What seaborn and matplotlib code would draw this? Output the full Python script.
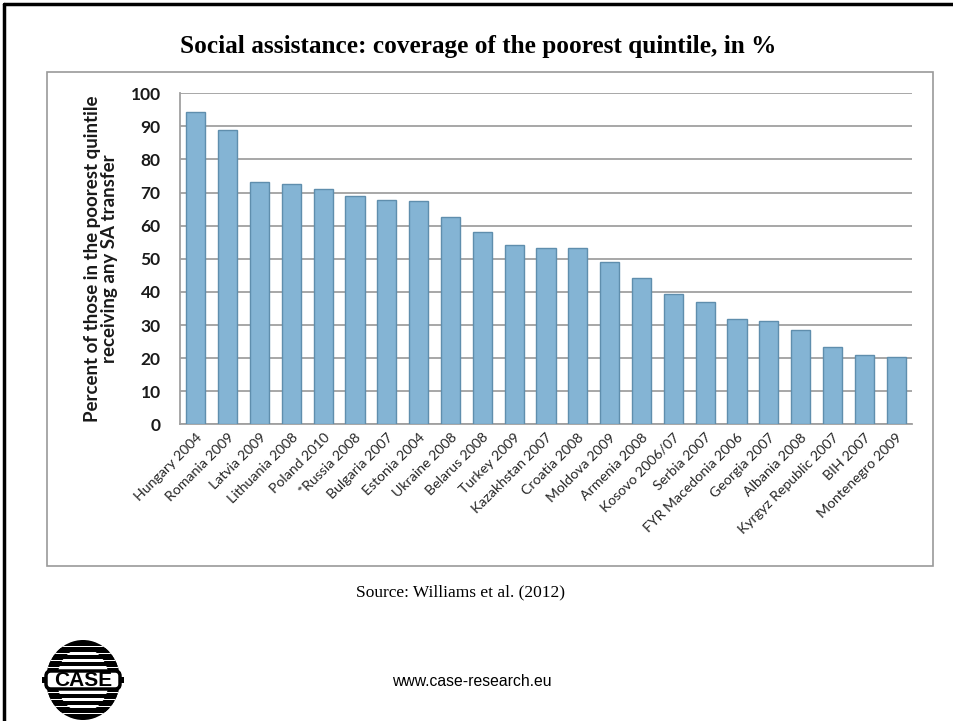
import matplotlib
matplotlib.use("Agg")
import matplotlib.pyplot as plt
from matplotlib.patches import Rectangle, Ellipse, FancyBboxPatch
from matplotlib.lines import Line2D
import seaborn as sns
import pandas as pd

countries = [
    "Hungary 2004", "Romania 2009", "Latvia 2009", "Lithuania 2008", "Poland 2010",
    "*Russia 2008", "Bulgaria 2007", "Estonia 2004", "Ukraine 2008", "Belarus 2008",
    "Turkey 2009", "Kazakhstan 2007", "Croatia 2008", "Moldova 2009", "Armenia 2008",
    "Kosovo 2006/07", "Serbia 2007", "FYR Macedonia 2006", "Georgia 2007", "Albania 2008",
    "Kyrgyz Republic 2007", "BIH 2007", "Montenegro 2009",
]
coverage = [
    94.4, 88.9, 73.3, 72.5, 71.2,
    69.1, 67.9, 67.5, 62.7, 58.1,
    54.2, 53.3, 53.3, 49.0, 44.3,
    39.3, 36.9, 31.7, 31.3, 28.4,
    23.3, 21.0, 20.3,
]
y_ticks = [0, 10, 20, 30, 40, 50, 60, 70, 80, 90, 100]

df = pd.DataFrame({"country": countries, "coverage": coverage})

sns.set_theme(style="white")
W, H = 954, 721
fig = plt.figure(figsize=(W / 100, H / 100), dpi=100)
fig.patch.set_facecolor("white")


def px(x0, y0, x1, y1):
    """Convert a pixel box (left, top, right, bottom) to figure fractions."""
    return [x0 / W, 1 - y1 / H, (x1 - x0) / W, (y1 - y0) / H]


# slide frame (top and left black rules)
fig.add_artist(Line2D([4 / W, 1], [1 - 4 / H, 1 - 4 / H], color="black", lw=2.5,
                      transform=fig.transFigure))
fig.add_artist(Line2D([4 / W, 4 / W], [0, 1 - 4 / H], color="black", lw=2.5,
                      transform=fig.transFigure))

# chart container box
fig.add_artist(Rectangle((47 / W, 1 - 566 / H), (933 - 47) / W, (566 - 72) / H,
                         transform=fig.transFigure, fill=False,
                         edgecolor="#9a9a9a", lw=1.2))

fig.text(478 / W, 1 - 46 / H, "Social assistance: coverage of the poorest quintile, in %",
         ha="center", va="center", fontsize=18.2, fontweight="bold",
         family="Liberation Serif", color="black")

ax = fig.add_axes(px(180, 93.3, 912, 424.3))
sns.barplot(data=df, x="country", y="coverage", ax=ax, color="#84b4d4",
            saturation=1, width=0.6, edgecolor="#5f8ead", linewidth=1.0, zorder=3)

ax.set_ylim(0, 100)
ax.set_xlim(-0.5, len(countries) - 0.5)
ax.set_yticks(y_ticks)
ax.yaxis.grid(True, color="#a0a0a0", lw=1.3, zorder=0)
ax.set_axisbelow(True)
for s in ["top", "right"]:
    ax.spines[s].set_visible(False)
for s in ["left", "bottom"]:
    ax.spines[s].set_color("#a0a0a0")
    ax.spines[s].set_linewidth(1.3)
ax.tick_params(axis="both", length=0)
ax.tick_params(axis="y", pad=14)
ax.set_yticklabels([str(v) for v in y_ticks], fontsize=12.5, fontweight="bold",
                   family="Lato", color="#1a1a1a")
ax.set_xticks(range(len(countries)))
ax.set_xticklabels(countries, rotation=45, ha="right", rotation_mode="anchor",
                   fontsize=10.2, family="Lato", color="#262626")
ax.tick_params(axis="x", pad=5)
ax.set_xlabel("")
ax.set_ylabel("Percent of those in the poorest quintile\nreceiving any SA transfer",
              fontsize=13.5, fontweight="bold", family="Lato", color="#1a1a1a",
              labelpad=9, linespacing=1.0)

fig.text(461 / W, 1 - 592 / H, "Source: Williams et al. (2012)", ha="center", va="center",
         fontsize=12.5, family="Liberation Serif", color="black")
fig.text(472 / W, 1 - 681 / H, "www.case-research.eu", ha="center", va="center",
         fontsize=11.3, family="Liberation Sans", color="black")

# CASE logo: striped ring with a boxed wordmark
lax = fig.add_axes(px(42, 638, 124, 722))
lax.set_xlim(0, 82)
lax.set_ylim(0, 84)
lax.axis("off")
clip = Ellipse((41, 42), 74, 80, facecolor="none", edgecolor="none")
lax.add_patch(clip)
ring = Ellipse((41, 42), 74, 80, facecolor="black", edgecolor="none")
lax.add_patch(ring)
inner = Ellipse((41, 42), 52, 64, facecolor="white", edgecolor="none")
lax.add_patch(inner)
# interior stripes
for y in [12, 19, 26, 58, 65, 72]:
    ln = Rectangle((0, y - 1.6), 82, 3.2, facecolor="black", edgecolor="none")
    lax.add_patch(ln)
    ln.set_clip_path(clip)
# white gaps breaking the ring
for y in [8.5, 15.5, 22.5, 29.5, 54.5, 61.5, 68.5, 75.5]:
    gap = Rectangle((0, y - 0.9), 82, 1.8, facecolor="white", edgecolor="none")
    lax.add_patch(gap)
    gap.set_clip_path(clip)
lax.add_patch(Rectangle((0, 39), 82, 6, facecolor="black", edgecolor="none"))
lax.add_patch(FancyBboxPatch((4, 33), 74, 18, boxstyle="round,pad=0,rounding_size=5",
                             facecolor="white", edgecolor="black", lw=2.5))
lax.text(41, 42, "CASE", ha="center", va="center", fontsize=15, fontweight="bold",
         family="Liberation Sans", color="black")

fig.savefig("out.png", dpi=100)
